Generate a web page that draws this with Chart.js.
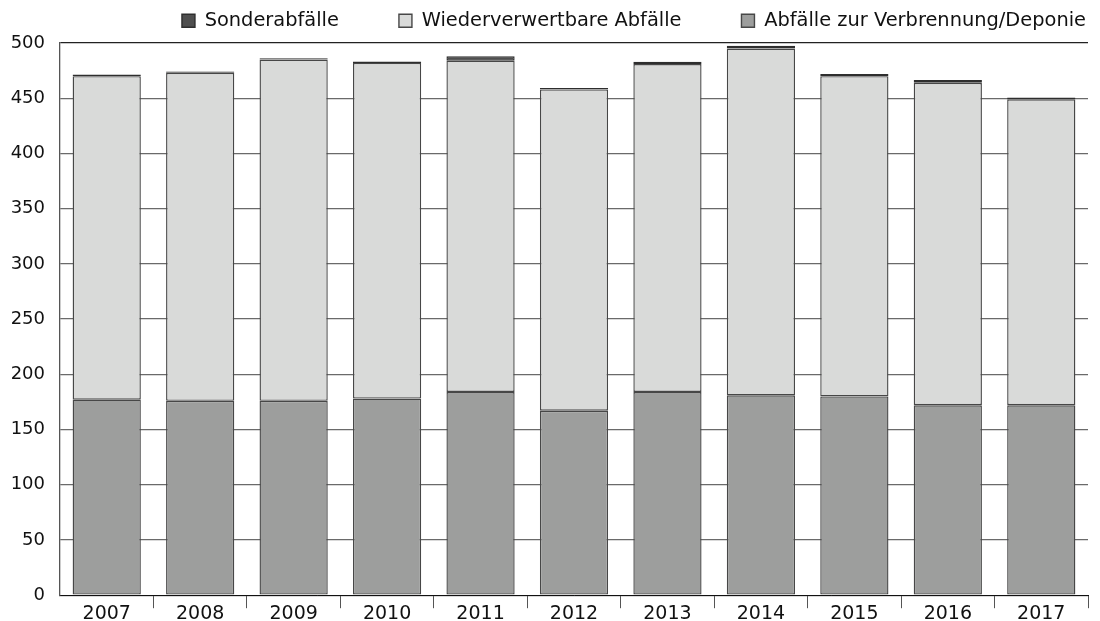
<!DOCTYPE html>
<html>
<head>
<meta charset="utf-8">
<script src="https://cdn.jsdelivr.net/npm/chart.js@4/dist/chart.umd.min.js"></script>
<style>
  html, body { margin: 0; padding: 0; background: #fff; }
  #wrap { width: 1100px; height: 621px; }
</style>
</head>
<body>
<div id="wrap"><canvas id="wasteChart" width="1100" height="621"></canvas></div>
<script>
// Years on the x axis
const years = ['2007', '2008', '2009', '2010', '2011', '2012', '2013', '2014', '2015', '2016', '2017'];

// Stacked values (tonnes)
const verbrennung = [177, 176, 176, 178, 184, 167, 184, 181, 180, 172, 172];
const wiederverwertbar = [293, 297, 309, 304, 300, 291, 297, 314, 290, 292, 277];
const sonderabfaelle = [1.5, 1.2, 1.2, 1.3, 4, 1.2, 2, 2.4, 2, 2.4, 1.6];

const yTicks = [0, 50, 100, 150, 200, 250, 300, 350, 400, 450, 500];

const LEGEND_PAD = 60;

// wide gaps between legend items, but a short legend box
const legendHeight = {
    id: 'legendHeight',
    beforeInit(chart) {
        const legend = chart.legend;
        const fit = legend.fit;
        legend.fit = function () {
            fit.call(this);
            this.height = 41;
            this.minSize = { width: this.width, height: 41 };
        };
        const draw = legend._draw;
        legend._draw = function () {
            this.ctx.save();
            this.ctx.translate(LEGEND_PAD - 2, -LEGEND_PAD + 9);
            draw.call(this);
            this.ctx.restore();
        };
    }
};

document.addEventListener('DOMContentLoaded', function () {
    const ctx = document.getElementById('wasteChart').getContext('2d');

    new Chart(ctx, {
        type: 'bar',
        data: {
            labels: years,
            datasets: [
                {
                    label: 'Abfälle zur Verbrennung/Deponie',
                    data: verbrennung,
                    backgroundColor: '#9d9e9d',
                    borderColor: '#474747',
                    borderWidth: 1.4,
                    borderSkipped: false,
                },
                {
                    label: 'Wiederverwertbare Abfälle',
                    data: wiederverwertbar,
                    backgroundColor: '#d9dad9',
                    borderColor: '#474747',
                    borderWidth: 1.4,
                    borderSkipped: false,
                },
                {
                    label: 'Sonderabfälle',
                    data: sonderabfaelle,
                    backgroundColor: '#4f4f4f',
                    borderColor: '#2e2e2e',
                    borderWidth: 1.4,
                    borderSkipped: false,
                }
            ]
        },
        plugins: [legendHeight],
        options: {
            responsive: false,
            maintainAspectRatio: false,
            animation: false,
            layout: { padding: { left: 10, right: 12, top: 2, bottom: 0 } },
            datasets: {
                bar: { barPercentage: 0.73, categoryPercentage: 1 }
            },
            plugins: {
                tooltip: { enabled: false },
                legend: {
                    position: 'top',
                    align: 'end',
                    reverse: true,
                    labels: {
                        font: { family: 'DejaVu Sans', size: 19.4 },
                        color: '#111',
                        boxWidth: 13,
                        boxHeight: 13,
                        padding: LEGEND_PAD,
                    }
                }
            },
            scales: {
                x: {
                    stacked: true,
                    offset: true,
                    afterFit: function (axis) {
                        axis.height = 25;
                    },
                    border: { display: true, color: '#111', width: 1 },
                    grid: {
                        offset: true,
                        drawOnChartArea: false,
                        drawTicks: true,
                        tickLength: 13,
                        color: function (c) {
                            return (c.index === 0 || c.index === years.length) ? 'rgba(0,0,0,0)' : '#555';
                        }
                    },
                    ticks: {
                        font: { family: 'DejaVu Sans', size: 19, lineHeight: 1 },
                        color: '#111',
                        padding: -4
                    }
                },
                y: {
                    stacked: true,
                    min: 0,
                    max: 500,
                    afterBuildTicks: function (axis) {
                        axis.ticks = yTicks.map(v => ({ value: v }));
                    },
                    afterFit: function (axis) {
                        axis.width = 50;
                    },
                    border: { display: true, color: '#555', width: 1.3 },
                    grid: {
                        drawTicks: false,
                        color: function (c) {
                            return c.tick && c.tick.value === 500 ? '#222' : '#6a6a6a';
                        },
                        lineWidth: 1.3,
                    },
                    ticks: {
                        font: { family: 'DejaVu Sans', size: 18 },
                        color: '#111',
                        padding: 15
                    }
                }
            }
        }
    });
});
</script>
</body>
</html>
